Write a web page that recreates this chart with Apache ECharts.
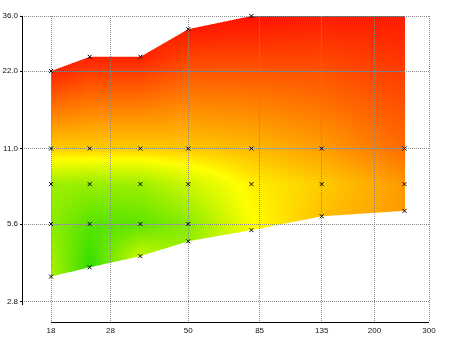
<!DOCTYPE html>
<html>
<head>
<meta charset="utf-8">
<script src="https://cdn.jsdelivr.net/npm/echarts@6/dist/echarts.min.js"></script>
<style>
  html, body { margin: 0; padding: 0; background: #fff; }
  #chart { width: 450px; height: 337px; }
</style>
</head>
<body>
<div id="chart"></div>
<script>
// ---------- data ----------
// measurement columns (x, log axis)
const xVals = [18, 24, 35, 50, 80, 135, 250];
// lower and upper boundary of the measured region per column (y, log axis)
const yLow  = [3.5, 3.8, 4.2, 4.8, 5.3, 6.0, 6.3];
const yHigh = [22, 25, 25, 32, 36, 42, 48];
// interior measurement rows
const rowYs = [5.6, 8, 11];
// colour value (0 = green, 1 = yellow, 2 = red) at each marked point
const zLow  = [0.63, 0.05, 0.75, 0.50, 0.97, 1.25, 1.40];
const z56   = [0.47, 0.22, 0.25, 0.45, null, null, null];
const z8    = [0.55, 0.52, 0.55, 0.76, 1.06, 1.20, 1.40];
const z11   = [1.20, 1.20, 1.20, 1.22, 1.27, 1.38, 1.58];
const zHigh = [1.87, 1.87, 1.87, 1.90, 1.94, 1.96, 1.97];
const rowZ = [z56, z8, z11];
// axis ticks
const xTicks = [18, 28, 50, 85, 135, 200, 300];
const xTickLabels = ['18', '28', '50', '85', '135', '200', '300'];
const yTicks = [2.8, 5.6, 11, 22, 36];
const yTickLabels = ['2.8', '5.6', '11.0', '22.0', '36.0'];
const xRange = [14.5, 300];
const yRange = [2.33, 36];
const xAxisLineSpan = [18, 300];
const yAxisLineSpan = [2.71, 36];
// colour ramp (z = 0, 1, 2)
const rampColors = [[40, 220, 0], [255, 255, 0], [255, 0, 0]];

// ---------- helpers ----------
const L = Math.log;
function colorOf(z) {
  z = Math.max(0, Math.min(2, z));
  const k = z < 1 ? 0 : 1;
  const f = z - k;
  const a = rampColors[k], b = rampColors[k + 1];
  const c = a.map((v, j) => Math.round(v + (b[j] - v) * f));
  return 'rgb(' + c.join(',') + ')';
}
function profileNodes(i) {
  const nodes = [[L(yLow[i]), zLow[i]]];
  rowYs.forEach((ry, k) => {
    const z = rowZ[k][i];
    if (z != null) nodes.push([L(ry), z]);
  });
  nodes.push([L(yHigh[i]), zHigh[i]]);
  return nodes.sort((a, b) => a[0] - b[0]);
}
function evalNodes(nodes, ly) {
  if (ly <= nodes[0][0]) return nodes[0][1];
  for (let k = 1; k < nodes.length; k++) {
    if (ly <= nodes[k][0]) {
      const s = (ly - nodes[k - 1][0]) / (nodes[k][0] - nodes[k - 1][0]);
      return nodes[k - 1][1] + (nodes[k][1] - nodes[k - 1][1]) * s;
    }
  }
  return nodes[nodes.length - 1][1];
}
function nearestLabel(v, ticks, labels) {
  let best = 0, bd = Infinity;
  ticks.forEach((t, i) => { const d = Math.abs(L(t) - v); if (d < bd) { bd = d; best = i; } });
  return labels[best];
}

// scatter marks from the data arrays
const markPts = [];
xVals.forEach((x, i) => {
  markPts.push([L(x), L(yLow[i])]);
  rowYs.forEach((ry, k) => { if (rowZ[k][i] != null) markPts.push([L(x), L(ry)]); });
  markPts.push([L(x), L(yHigh[i])]);
});
// one field item per interval between measurement columns
const fieldItems = xVals.slice(0, -1).map((x, i) => [i]);

const yMaxLn = L(yRange[1]);

function renderField(params, api) {
  const i = api.value(0);
  const A = profileNodes(i), B = profileNodes(i + 1);
  const lx0 = L(xVals[i]), lx1 = L(xVals[i + 1]);
  const p0 = api.coord([lx0, A[0][0]])[0];
  const p1 = api.coord([lx1, B[0][0]])[0];
  const children = [];
  const start = Math.round(p0), end = Math.round(p1);
  for (let px = start; px < end; px++) {
    const t = Math.max(0, Math.min(1, (px + 0.5 - p0) / (p1 - p0)));
    const lx = lx0 + (lx1 - lx0) * t;
    const lo = A[0][0] + (B[0][0] - A[0][0]) * t;
    const hiFull = A[A.length - 1][0] + (B[B.length - 1][0] - A[A.length - 1][0]) * t;
    const hi = Math.min(hiFull, yMaxLn);
    const lys = [lo, hi];
    A.concat(B).forEach(n => { if (n[0] > lo && n[0] < hi) lys.push(n[0]); });
    lys.sort((a, b) => a - b);
    const zAt = ly => (1 - t) * evalNodes(A, ly) + t * evalNodes(B, ly);
    const pts = lys.map(ly => [ly, zAt(ly)]);
    const full = [];
    for (let k = 0; k < pts.length; k++) {
      full.push(pts[k]);
      if (k < pts.length - 1) {
        const za = pts[k][1], zb = pts[k + 1][1];
        if ((za - 1) * (zb - 1) < 0) {
          const s = (1 - za) / (zb - za);
          full.push([pts[k][0] + s * (pts[k + 1][0] - pts[k][0]), 1]);
        }
      }
    }
    const yBot = api.coord([lx, lo])[1];
    const yTop = api.coord([lx, hi])[1];
    const h = yBot - yTop;
    if (h <= 0) continue;
    const stops = full.map(p => ({
      offset: Math.max(0, Math.min(1, (api.coord([lx, p[0]])[1] - yTop) / h)),
      color: colorOf(p[1])
    })).sort((a, b) => a.offset - b.offset);
    children.push({
      type: 'rect',
      shape: { x: px, y: yTop, width: 1, height: h },
      style: { fill: { type: 'linear', x: 0, y: 0, x2: 0, y2: 1, colorStops: stops, global: false } },
      silent: true
    });
  }
  return { type: 'group', children: children };
}

const labelFont = { fontFamily: "'Liberation Sans', Arial, sans-serif", fontSize: 8, color: '#111' };
const gridLine = { show: true, lineStyle: { color: '#888', type: 'dotted', width: 1 } };

const chart = echarts.init(document.getElementById('chart'), null, { renderer: 'canvas' });
chart.setOption({
  animation: false,
  backgroundColor: '#fff',
  grid: { left: 22, right: 21, top: 16, bottom: 15, outerBoundsMode: 'none', containLabel: false },
  xAxis: {
    type: 'value',
    min: L(xRange[0]), max: L(xRange[1]),
    axisLine: { show: false },
    axisTick: { show: false, customValues: xTicks.map(L) },
    axisLabel: Object.assign({ margin: 5, customValues: xTicks.map(L),
      formatter: v => nearestLabel(v, xTicks, xTickLabels) }, labelFont),
    splitLine: gridLine
  },
  yAxis: {
    type: 'value',
    min: L(yRange[0]), max: L(yRange[1]),
    axisLine: { show: false },
    axisTick: { show: true, length: 2, customValues: yTicks.map(L), lineStyle: { color: '#000', width: 1 } },
    axisLabel: Object.assign({ margin: 4, customValues: yTicks.map(L),
      formatter: v => nearestLabel(v, yTicks, yTickLabels) }, labelFont),
    splitLine: gridLine
  },
  series: [
    {
      type: 'custom',
      z: -1,
      silent: true,
      renderItem: renderField,
      data: fieldItems
    },
    {
      type: 'lines',
      coordinateSystem: 'cartesian2d',
      clip: false,
      silent: true,
      lineStyle: { color: '#000', width: 1, opacity: 1 },
      data: [
        { coords: [[L(xRange[0]), L(yAxisLineSpan[0])], [L(xRange[0]), L(yAxisLineSpan[1])]] },
        { coords: [[L(xAxisLineSpan[0]), L(yRange[0])], [L(xAxisLineSpan[1]), L(yRange[0])]] }
      ]
    },
    {
      type: 'scatter',
      silent: true,
      clip: true,
      symbol: 'path://M0 0L10 10M10 0L0 10',
      symbolSize: 4,
      itemStyle: { color: 'rgba(0,0,0,0)', borderColor: '#000', borderWidth: 1, opacity: 1 },
      data: markPts,
      z: 5
    }
  ]
});
</script>
</body>
</html>
